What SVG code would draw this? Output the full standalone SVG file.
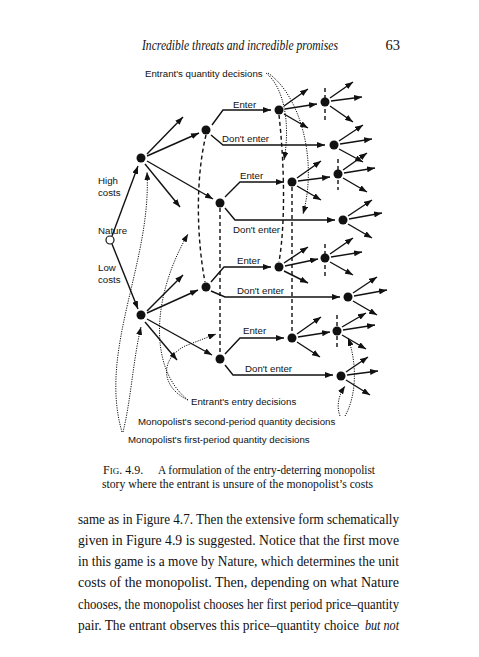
<svg xmlns="http://www.w3.org/2000/svg" width="479" height="657" viewBox="0 0 479 657">
<style>
.ln{fill:none;stroke:#111;stroke-width:1.4}
.dash{fill:none;stroke:#111;stroke-width:1.4;stroke-dasharray:4 3}
.dot{fill:none;stroke:#111;stroke-width:1;stroke-dasharray:1.2 1.2}
.nd{fill:#111}
.lb{font-family:"Liberation Sans",Arial,sans-serif;font-size:9.7px;fill:#111}
.bd{font-family:"Liberation Serif","Times New Roman",serif;font-size:14.5px;fill:#111}
.cp{font-family:"Liberation Serif","Times New Roman",serif;font-size:12px;fill:#111}
</style>
<defs>
<marker id="ah" viewBox="0 0 8 6" refX="8" refY="3" markerWidth="8" markerHeight="6" markerUnits="userSpaceOnUse" orient="auto" preserveAspectRatio="none"><path d="M0,0 L8,3 L0,6 z" fill="#111" stroke="none"/></marker>
</defs>
<rect width="479" height="657" fill="#fff"/>

<g id="header">
<text x="142" y="50" class="bd" font-style="italic" font-size="13" textLength="196" lengthAdjust="spacingAndGlyphs">Incredible threats and incredible promises</text>
<text x="400" y="50" class="bd" font-size="13.5" text-anchor="end">63</text>
</g>

<g id="connectors">
<!-- Nature moves -->
<path class="ln" d="M112,236 L138,166" marker-end="url(#ah)"/>
<path class="ln" d="M112,244 L138,309" marker-end="url(#ah)"/>
<!-- M1 fan -->
<path class="ln" d="M147,154 L183,117" marker-end="url(#ah)"/>
<path class="ln" d="M147,156 L199,133" marker-end="url(#ah)"/>
<path class="ln" d="M147,161 L213,199" marker-end="url(#ah)"/>
<path class="ln" d="M145,164 L180,207" marker-end="url(#ah)"/>
<!-- M2 fan -->
<path class="ln" d="M147,311 L183,275" marker-end="url(#ah)"/>
<path class="ln" d="M147,313 L198,290" marker-end="url(#ah)"/>
<path class="ln" d="M147,319 L212,355" marker-end="url(#ah)"/>
<path class="ln" d="M145,322 L177,360" marker-end="url(#ah)"/>
<!-- Entry decisions -->
<path class="ln" d="M212,125 L223,110 L271,110" marker-end="url(#ah)"/>
<path class="ln" d="M211,135 L223,145 L325,145" marker-end="url(#ah)"/>
<path class="ln" d="M225,197 L240,182 L284,182" marker-end="url(#ah)"/>
<path class="ln" d="M225,208 L235,220 L335,220" marker-end="url(#ah)"/>
<path class="ln" d="M211,282 L224,267 L271,267" marker-end="url(#ah)"/>
<path class="ln" d="M211,291 L225,297 L340,297" marker-end="url(#ah)"/>
<path class="ln" d="M225,354 L240,338 L284,338" marker-end="url(#ah)"/>
<path class="ln" d="M225,365 L233,375 L333,375" marker-end="url(#ah)"/>
<!-- Second period fans -->
<path class="ln" d="M284,106 L308,89" marker-end="url(#ah)"/>
<path class="ln" d="M285,109 L317,104" marker-end="url(#ah)"/>
<path class="ln" d="M284,114 L308,128" marker-end="url(#ah)"/>
<path class="ln" d="M330,98 L353,82" marker-end="url(#ah)"/>
<path class="ln" d="M331,101 L362,97" marker-end="url(#ah)"/>
<path class="ln" d="M330,106 L353,122" marker-end="url(#ah)"/>
<path class="ln" d="M339,141 L363,125" marker-end="url(#ah)"/>
<path class="ln" d="M340,144 L372,139" marker-end="url(#ah)"/>
<path class="ln" d="M339,149 L363,162" marker-end="url(#ah)"/>
<path class="ln" d="M297,178 L321,161" marker-end="url(#ah)"/>
<path class="ln" d="M298,181 L330,177" marker-end="url(#ah)"/>
<path class="ln" d="M297,186 L321,200" marker-end="url(#ah)"/>
<path class="ln" d="M343,170 L367,153" marker-end="url(#ah)"/>
<path class="ln" d="M344,173 L375,168" marker-end="url(#ah)"/>
<path class="ln" d="M343,178 L367,192" marker-end="url(#ah)"/>
<path class="ln" d="M348,216 L372,200" marker-end="url(#ah)"/>
<path class="ln" d="M349,219 L382,213" marker-end="url(#ah)"/>
<path class="ln" d="M348,224 L372,238" marker-end="url(#ah)"/>
<path class="ln" d="M284,263 L308,247" marker-end="url(#ah)"/>
<path class="ln" d="M285,266 L318,259" marker-end="url(#ah)"/>
<path class="ln" d="M284,271 L308,283" marker-end="url(#ah)"/>
<path class="ln" d="M330,254 L353,238" marker-end="url(#ah)"/>
<path class="ln" d="M331,257 L362,252" marker-end="url(#ah)"/>
<path class="ln" d="M330,262 L353,275" marker-end="url(#ah)"/>
<path class="ln" d="M353,293 L377,277" marker-end="url(#ah)"/>
<path class="ln" d="M354,296 L387,290" marker-end="url(#ah)"/>
<path class="ln" d="M353,301 L377,315" marker-end="url(#ah)"/>
<path class="ln" d="M297,334 L321,317" marker-end="url(#ah)"/>
<path class="ln" d="M298,337 L330,332" marker-end="url(#ah)"/>
<path class="ln" d="M297,342 L320,357" marker-end="url(#ah)"/>
<path class="ln" d="M342,327 L366,313" marker-end="url(#ah)"/>
<path class="ln" d="M343,330 L375,325" marker-end="url(#ah)"/>
<path class="ln" d="M342,335 L366,349" marker-end="url(#ah)"/>
<path class="ln" d="M346,372 L368,357" marker-end="url(#ah)"/>
<path class="ln" d="M347,375 L378,371" marker-end="url(#ah)"/>
<path class="ln" d="M346,380 L370,395" marker-end="url(#ah)"/>
<!-- Information sets -->
<path class="dash" d="M206,135 C195,180 197,240 205,282"/>
<path class="dash" d="M220,208 L220,354"/>
<path class="dash" d="M279,115 C284,160 286,220 279,262"/>
<path class="dash" d="M292,187 L292,333"/>
<path class="dash" d="M325,88 L325,120"/>
<path class="dash" d="M338,159 L338,190"/>
<path class="dash" d="M325,244 L325,276"/>
<path class="dash" d="M337,315 L337,350"/>
<!-- Label pointers -->
<path class="dot" d="M122,432 C98,350 152,262 147,172" marker-end="url(#ah)"/>
<path class="dot" d="M123,432 C131,400 133,360 141,327" marker-end="url(#ah)"/>
<path class="dot" d="M188,400 C150,370 150,300 188,234" marker-end="url(#ah)"/>
<path class="dot" d="M188,400 C162,388 158,360 185,346 L216,334" marker-end="url(#ah)"/>
<path class="dot" d="M266,73 C283,86 291,122 284,160" marker-end="url(#ah)"/>
<path class="dot" d="M268,73 C300,95 318,160 303,214" marker-end="url(#ah)"/>
<path class="dot" d="M340,416 C336,405 339,395 345,386" marker-end="url(#ah)"/>
<path class="dot" d="M345,416 C357,395 357,362 348,338" marker-end="url(#ah)"/>
</g>

<g id="nature"><circle cx="110" cy="240" r="4" fill="#fff" stroke="#111" stroke-width="1.2"/><text x="98" y="234" class="lb">Nature</text></g>
<g id="high-costs"><text x="98" y="184" class="lb">High</text><text x="98" y="196" class="lb">costs</text></g>
<g id="low-costs"><text x="98" y="271" class="lb">Low</text><text x="98" y="283" class="lb">costs</text></g>
<g id="m1"><circle class="nd" cx="141" cy="158" r="4.5"/></g>
<g id="m2"><circle class="nd" cx="141" cy="315" r="4.5"/></g>
<g id="e1"><circle class="nd" cx="206" cy="130" r="4.5"/><text x="233" y="108" class="lb">Enter</text><text x="222" y="142" class="lb">Don't enter</text></g>
<g id="e2"><circle class="nd" cx="220" cy="203" r="4.5"/><text x="240" y="179" class="lb">Enter</text><text x="233" y="233" class="lb">Don't enter</text></g>
<g id="e3"><circle class="nd" cx="206" cy="287" r="4.5"/><text x="237" y="264" class="lb">Enter</text><text x="237" y="294" class="lb">Don't enter</text></g>
<g id="e4"><circle class="nd" cx="220" cy="359" r="4.5"/><text x="243" y="334" class="lb">Enter</text><text x="245" y="372" class="lb">Don't enter</text></g>
<g id="a1"><circle class="nd" cx="279" cy="110" r="4.5"/></g>
<g id="b1"><circle class="nd" cx="325" cy="102" r="4.5"/></g>
<g id="c1"><circle class="nd" cx="334" cy="145" r="4.5"/></g>
<g id="a2"><circle class="nd" cx="292" cy="182" r="4.5"/></g>
<g id="b2"><circle class="nd" cx="338" cy="174" r="4.5"/></g>
<g id="c2"><circle class="nd" cx="343" cy="220" r="4.5"/></g>
<g id="a3"><circle class="nd" cx="279" cy="267" r="4.5"/></g>
<g id="b3"><circle class="nd" cx="325" cy="258" r="4.5"/></g>
<g id="c3"><circle class="nd" cx="348" cy="297" r="4.5"/></g>
<g id="a4"><circle class="nd" cx="292" cy="338" r="4.5"/></g>
<g id="b4"><circle class="nd" cx="337" cy="331" r="4.5"/></g>
<g id="c4"><circle class="nd" cx="341" cy="376" r="4.5"/></g>

<g id="labels">
<text x="145" y="77" class="lb">Entrant's quantity decisions</text>
<text x="191" y="405" class="lb">Entrant's entry decisions</text>
<text x="138" y="425" class="lb">Monopolist's second-period quantity decisions</text>
<text x="128" y="443" class="lb">Monopolist's first-period quantity decisions</text>
</g>

<g id="caption">
<text x="103" y="474" class="cp">F<tspan font-size="9">IG</tspan>. 4.9.</text>
<text x="158" y="474" class="cp" textLength="217" lengthAdjust="spacingAndGlyphs">A formulation of the entry-deterring monopolist</text>
<text x="102" y="488" class="cp" textLength="271" lengthAdjust="spacingAndGlyphs">story where the entrant is unsure of the monopolist’s costs</text>
</g>

<g id="body">
<text x="78" y="524" class="bd" textLength="321" lengthAdjust="spacingAndGlyphs">same as in Figure 4.7. Then the extensive form schematically</text>
<text x="78" y="545" class="bd" textLength="321" lengthAdjust="spacingAndGlyphs">given in Figure 4.9 is suggested. Notice that the first move</text>
<text x="78" y="566" class="bd" textLength="321" lengthAdjust="spacingAndGlyphs">in this game is a move by Nature, which determines the unit</text>
<text x="78" y="587" class="bd" textLength="321" lengthAdjust="spacingAndGlyphs">costs of the monopolist. Then, depending on what Nature</text>
<text x="78" y="609" class="bd" textLength="321" lengthAdjust="spacingAndGlyphs">chooses, the monopolist chooses her first period price–quantity</text>
<text x="78" y="630" class="bd" font-size="14" textLength="281" lengthAdjust="spacingAndGlyphs">pair. The entrant observes this price–quantity choice</text>
<text x="365" y="630" class="bd" font-style="italic" font-size="13" textLength="34" lengthAdjust="spacingAndGlyphs">but not</text>
</g>
</svg>
